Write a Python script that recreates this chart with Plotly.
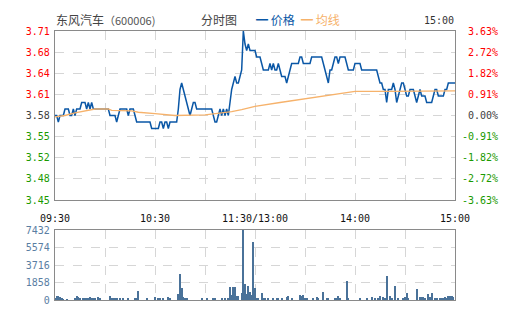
import plotly.graph_objects as go

W, H = 505, 330

# ---------------- data ----------------
minutes = list(range(241))
x_tick_vals = [0, 30, 60, 90, 120, 150, 180, 210, 240]
x_tick_text = ["09:30", "", "10:30", "", "11:30/13:00", "", "14:00", "", "15:00"]

price = [
    3.58, 3.58, 3.57, 3.58, 3.58, 3.58, 3.59, 3.59, 3.59, 3.58,   # 0-9
    3.58, 3.59, 3.58, 3.59, 3.59, 3.59, 3.60, 3.60, 3.60, 3.59,   # 10-19
    3.60, 3.59, 3.60, 3.59, 3.59, 3.59, 3.59, 3.59, 3.59, 3.59,   # 20-29
    3.59, 3.59, 3.59, 3.58, 3.58, 3.58, 3.58, 3.57, 3.58, 3.59,   # 30-39
    3.59, 3.59, 3.59, 3.59, 3.58, 3.59, 3.59, 3.59, 3.58, 3.57,   # 40-49
    3.57, 3.57, 3.57, 3.57, 3.57, 3.57, 3.57, 3.57, 3.56, 3.56,   # 50-59
    3.56, 3.56, 3.56, 3.57, 3.57, 3.56, 3.57, 3.57, 3.56, 3.57,   # 60-69
    3.57, 3.57, 3.57, 3.57, 3.59, 3.62, 3.63, 3.62, 3.61, 3.60,   # 70-79
    3.59, 3.58, 3.59, 3.60, 3.60, 3.59, 3.59, 3.59, 3.59, 3.59,   # 80-89
    3.59, 3.59, 3.59, 3.59, 3.59, 3.58, 3.57, 3.57, 3.58, 3.59,   # 90-99
    3.58, 3.59, 3.58, 3.59, 3.58, 3.60, 3.62, 3.63, 3.64, 3.63,   # 100-109
    3.63, 3.64, 3.65, 3.71, 3.69, 3.68, 3.69, 3.68, 3.68, 3.68,   # 110-119
    3.68, 3.67, 3.67, 3.67, 3.66, 3.65, 3.65, 3.65, 3.65, 3.66,   # 120-129
    3.65, 3.66, 3.65, 3.65, 3.66, 3.65, 3.64, 3.64, 3.64, 3.63,   # 130-139
    3.64, 3.65, 3.66, 3.66, 3.66, 3.66, 3.66, 3.67, 3.67, 3.66,   # 140-149
    3.66, 3.66, 3.66, 3.66, 3.67, 3.67, 3.67, 3.67, 3.67, 3.67,   # 150-159
    3.67, 3.66, 3.65, 3.64, 3.63, 3.65, 3.65, 3.66, 3.67, 3.67,   # 160-169
    3.66, 3.67, 3.67, 3.67, 3.67, 3.66, 3.65, 3.65, 3.65, 3.65,   # 170-179
    3.66, 3.66, 3.66, 3.66, 3.65, 3.65, 3.65, 3.65, 3.65, 3.65,   # 180-189
    3.65, 3.65, 3.65, 3.65, 3.64, 3.63, 3.63, 3.62, 3.62, 3.60,   # 190-199
    3.62, 3.62, 3.62, 3.63, 3.62, 3.60, 3.61, 3.62, 3.63, 3.63,   # 200-209
    3.62, 3.61, 3.61, 3.62, 3.62, 3.62, 3.61, 3.60, 3.61, 3.62,   # 210-219
    3.61, 3.61, 3.61, 3.60, 3.60, 3.60, 3.60, 3.61, 3.62, 3.62,   # 220-229
    3.61, 3.61, 3.61, 3.61, 3.62, 3.62, 3.63, 3.63, 3.63, 3.63,   # 230-239
    3.63,                                                         # 240
]

avg_minutes = [0, 6, 12, 18, 24, 32, 34, 46, 50, 60, 72, 90, 100, 106, 112,
               120, 135, 150, 165, 180, 200, 220, 240]
avg_price = [3.578, 3.580, 3.584, 3.587, 3.590, 3.590, 3.588, 3.587, 3.585, 3.583,
             3.580, 3.581, 3.584, 3.586, 3.589, 3.594, 3.600, 3.606, 3.612, 3.617,
             3.617, 3.617, 3.618]

volume = [
    250, 460, 420, 320, 180, 100, 0, 100, 0, 0,          # 0-9
    0, 0, 250, 390, 280, 180, 0, 180, 140, 180,          # 10-19
    140, 280, 210, 180, 180, 0, 280, 140, 0, 0,          # 20-29
    0, 0, 0, 460, 140, 140, 180, 250, 0, 180,            # 30-39
    0, 140, 0, 0, 140, 0, 0, 0, 200, 140,                # 40-49
    990, 0, 0, 0, 0, 140, 0, 0, 0, 0,                    # 50-59
    350, 0, 140, 200, 0, 180, 0, 0, 320, 140,            # 60-69
    0, 0, 0, 0, 670, 2800, 1310, 320, 160, 120,          # 70-79
    0, 0, 0, 0, 0, 0, 0, 0, 250, 0,                      # 80-89
    0, 200, 0, 0, 0, 220, 220, 0, 0, 0,                  # 90-99
    150, 0, 150, 0, 130, 1420, 570, 1350, 1420, 390,     # 100-109
    390, 0, 780, 7432, 1735, 600, 1520, 885, 570, 6120,  # 110-119
    1310, 140, 140, 0, 780, 140, 140, 0, 140, 0,         # 120-129
    0, 250, 0, 140, 140, 0, 140, 0, 0, 300,              # 130-139
    390, 0, 140, 0, 0, 0, 0, 570, 390, 570,              # 140-149
    140, 140, 0, 0, 0, 140, 0, 350, 140, 0,              # 150-159
    0, 885, 0, 250, 250, 0, 0, 0, 140, 140,              # 160-169
    460, 140, 0, 0, 0, 2050, 120, 0, 0, 0,               # 170-179
    0, 0, 0, 120, 0, 0, 0, 120, 0, 0,                    # 180-189
    320, 0, 180, 0, 180, 460, 0, 320, 180, 2580,         # 190-199
    0, 460, 180, 0, 1520, 0, 140, 0, 0, 250,             # 200-209
    280, 780, 250, 0, 0, 0, 0, 1200, 0, 280,             # 210-219
    320, 320, 140, 0, 670, 320, 780, 0, 140, 140,        # 220-229
    0, 250, 140, 180, 320, 250, 460, 460, 420, 350,      # 230-239
    0,                                                   # 240
]

price_ticks = [3.45, 3.4825, 3.515, 3.5475, 3.58, 3.6125, 3.645, 3.6775, 3.71]
price_labels = ["3.45", "3.48", "3.52", "3.55", "3.58", "3.61", "3.64", "3.68", "3.71"]
pct_labels = ["-3.63%", "-2.72%", "-1.82%", "-0.91%", "0.00%", "0.91%", "1.82%", "2.72%", "3.63%"]
vol_ticks = [0, 1858, 3716, 5574, 7432]
vol_labels = ["0", "1858", "3716", "5574", "7432"]

title_name = "东风汽车"
title_code = "（600006)"
chart_kind = "分时图"
legend_price = "价格"
legend_avg = "均线"
end_time = "15:00"

# ---------------- style ----------------
RED = "#ff0000"
GREEN = "#1a9a00"
GRAY = "#404040"
BLUE = "#0a57a6"
ORANGE = "#f6b26b"
VOLC = "#4a7299"
VOLTXT = "#5a7ea3"
GRID = "#d6d6d6"
FRAME = "#8a8a8a"
MONO = "DejaVu Sans Mono"
CJK = "Noto Sans CJK SC"


def color_for(i):
    return RED if i > 4 else (GRAY if i == 4 else GREEN)


def py(px):
    return 1 - px / H


def pxx(px):
    return px / W


fig = go.Figure()
fig.add_trace(go.Scatter(x=minutes, y=price, mode="lines",
                         line=dict(color=BLUE, width=1.5, shape="linear"),
                         xaxis="x", yaxis="y", showlegend=False, hoverinfo="skip"))
fig.add_trace(go.Scatter(x=avg_minutes, y=avg_price, mode="lines",
                         line=dict(color=ORANGE, width=1.3),
                         xaxis="x", yaxis="y", showlegend=False, hoverinfo="skip"))
fig.add_trace(go.Bar(x=minutes, y=volume, width=0.55,
                     marker=dict(color=VOLC, line=dict(width=0)),
                     xaxis="x2", yaxis="y2", showlegend=False, hoverinfo="skip"))

left_ticktext = [f'<span style="color:{color_for(i)}">{t}</span>' for i, t in enumerate(price_labels)]

axis_common = dict(showgrid=True, gridcolor=GRID, griddash="dash", gridwidth=1,
                   showline=True, linecolor=FRAME, linewidth=1.3, mirror=True,
                   zeroline=False, ticks="", automargin=False, fixedrange=True)

fig.update_layout(
    width=W, height=H,
    margin=dict(l=0, r=0, t=0, b=0),
    paper_bgcolor="white", plot_bgcolor="white",
    bargap=0,
    xaxis=dict(domain=[pxx(55), pxx(455)], range=[0, 240], anchor="y",
               tickmode="array", tickvals=x_tick_vals, ticktext=x_tick_text,
               tickfont=dict(family=MONO, size=10, color="#111"),
               ticklabelstandoff=9, **axis_common),
    yaxis=dict(domain=[py(200), py(31)], range=[3.45, 3.71], anchor="x",
               tickmode="array", tickvals=price_ticks, ticktext=left_ticktext,
               tickfont=dict(family=MONO, size=10), ticklabelstandoff=2,
               **axis_common),
    xaxis2=dict(domain=[pxx(55), pxx(455)], range=[0, 240], anchor="y2",
                tickmode="array", tickvals=x_tick_vals, showticklabels=False,
                **axis_common),
    yaxis2=dict(domain=[py(300), py(230)], range=[0, 7432], anchor="x2",
                tickmode="array", tickvals=vol_ticks, ticktext=vol_labels,
                tickfont=dict(family=MONO, size=10, color=VOLTXT), ticklabelstandoff=2,
                **axis_common),
)

annotations = []
for i, (v, t) in enumerate(zip(price_ticks, pct_labels)):
    annotations.append(dict(x=pxx(500), xref="paper", xanchor="right",
                            y=v, yref="y", yanchor="middle", showarrow=False,
                            text=t, font=dict(family=MONO, size=10, color=color_for(i))))

annotations += [
    dict(x=pxx(54), y=py(20), xref="paper", yref="paper", xanchor="left", yanchor="middle",
         showarrow=False,
         text=f'{title_name}<span style="font-size:11px;color:#555">{title_code}</span>',
         font=dict(family=CJK, size=12, color="#444")),
    dict(x=pxx(199), y=py(20), xref="paper", yref="paper", xanchor="left", yanchor="middle",
         showarrow=False, text=chart_kind, font=dict(family=CJK, size=12, color="#444")),
    dict(x=pxx(254), y=py(20), xref="paper", yref="paper", xanchor="left", yanchor="middle",
         showarrow=False, text=f'<b>━</b> {legend_price}',
         font=dict(family=CJK, size=12, color=BLUE)),
    dict(x=pxx(299), y=py(20), xref="paper", yref="paper", xanchor="left", yanchor="middle",
         showarrow=False, text=f'<b>━</b> {legend_avg}',
         font=dict(family=CJK, size=12, color=ORANGE)),
    dict(x=pxx(456), y=py(21), xref="paper", yref="paper", xanchor="right", yanchor="middle",
         showarrow=False, text=end_time, font=dict(family=MONO, size=10, color="#333")),
]
fig.update_layout(annotations=annotations)

fig.write_html("out.html", config={"displayModeBar": False})
